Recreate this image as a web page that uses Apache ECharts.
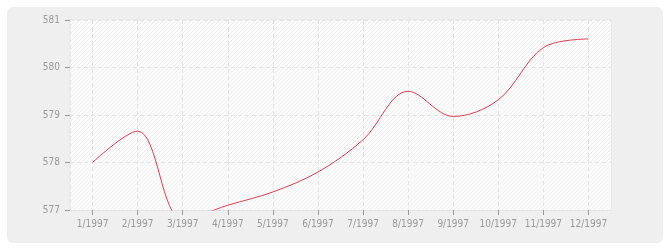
<!DOCTYPE html>
<html><head><meta charset="utf-8">
<script src="https://cdn.jsdelivr.net/npm/echarts@6/dist/echarts.min.js"></script>
<style>html,body{margin:0;padding:0;background:#fff}#c{width:670px;height:250px}</style>
</head><body><div id="c"></div>
<script>
const months = ['1/1997','2/1997','3/1997','4/1997','5/1997','6/1997','7/1997','8/1997','9/1997','10/1997','11/1997','12/1997'];
const values = [578.0, 578.66, 576.8, 577.1, 577.38, 577.80, 578.48, 579.5, 578.97, 579.32, 580.42, 580.6];
const yTicks = {min: 577, max: 581, interval: 1};

function hatch(bg, line) {
  const s = 4, c = document.createElement('canvas');
  c.width = s; c.height = s;
  const g = c.getContext('2d');
  g.fillStyle = bg; g.fillRect(0, 0, s, s);
  g.strokeStyle = line; g.lineWidth = 1;
  g.beginPath();
  g.moveTo(0, s); g.lineTo(s, 0);
  g.moveTo(-1, 1); g.lineTo(1, -1);
  g.moveTo(s - 1, s + 1); g.lineTo(s + 1, s - 1);
  g.stroke();
  return {image: c, repeat: 'repeat'};
}
const font = '"DejaVu Sans Condensed","DejaVu Sans",sans-serif';
const chart = echarts.init(document.getElementById('c'), null, {renderer: 'canvas'});
chart.setOption({
  animation: false,
  graphic: [{type: 'rect', z: -10, silent: true,
    shape: {x: 7, y: 7, width: 656, height: 236, r: 6},
    style: {fill: '#efefef'}}],
  grid: {left: 70, top: 20, right: 59, bottom: 40, show: true,
    backgroundColor: '#ffffff', borderColor: '#e2e2e2', borderWidth: 1},
  xAxis: {type: 'category', data: months, boundaryGap: true,
    axisLine: {show: true, lineStyle: {color: '#e2e2e2'}},
    axisTick: {show: true, alignWithLabel: true, interval: 0, length: 5, lineStyle: {color: '#999'}},
    axisLabel: {color: '#999', fontSize: 10, fontFamily: font, margin: 9, interval: 0},
    splitLine: {show: true, alignWithLabel: true, interval: 0, lineStyle: {color: '#e4e4e4', type: [4, 3]}}},
  yAxis: {type: 'value', min: yTicks.min, max: yTicks.max, interval: yTicks.interval,
    axisLine: {show: true, lineStyle: {color: '#e4e4e4', type: [4, 3]}},
    axisTick: {show: true, length: 5, lineStyle: {color: '#999'}},
    axisLabel: {color: '#999', fontSize: 10, fontFamily: font, margin: 10},
    splitLine: {show: true, lineStyle: {color: '#e4e4e4', type: [4, 3]}},
    splitArea: {show: true, areaStyle: {color: [hatch('#fafafa', '#f3f3f3'), hatch('#fcfcfc', '#eeeeee')]}}},
  series: [{type: 'line', data: values, smooth: 0.35, showSymbol: false, symbol: 'none',
    clip: true, lineStyle: {color: '#d9414f', width: 1}}]
});
</script></body></html>
